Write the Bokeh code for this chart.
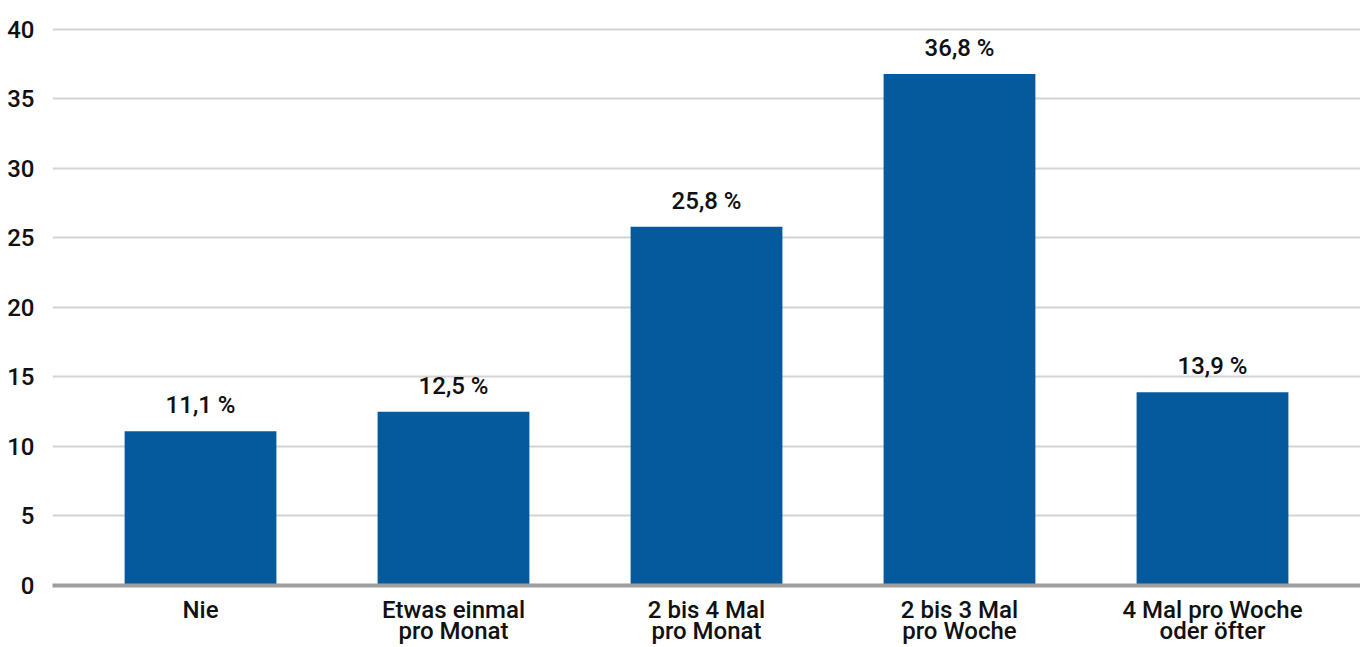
from bokeh.plotting import figure
from bokeh.models import FactorRange, Range1d, ColumnDataSource, FixedTicker
from bokeh.embed import file_html
from bokeh.resources import INLINE

categories = ["Nie", "Etwas einmal\npro Monat", "2 bis 4 Mal\npro Monat", "2 bis 3 Mal\npro Woche", "4 Mal pro Woche\noder öfter"]
values = [11.1, 12.5, 25.8, 36.8, 13.9]
labels = ["11,1 %", "12,5 %", "25,8 %", "36,8 %", "13,9 %"]
y_ticks = [0, 5, 10, 15, 20, 25, 30, 35, 40]

src = ColumnDataSource(dict(cat=categories, val=values, lab=labels))

FONT = "Roboto Medium"
p = figure(width=1360, height=647, output_backend="svg", toolbar_location=None,
           x_range=FactorRange(factors=categories, range_padding=0.085, range_padding_units="absolute"),
           y_range=Range1d(0, 41))
p.min_border_left = 52
p.min_border_right = 0
p.min_border_top = 15
p.min_border_bottom = 62
p.outline_line_color = None
p.background_fill_color = "white"
p.border_fill_color = "white"

p.vbar(x="cat", top="val", width=0.6, source=src, color="#045A9C", line_color=None)
p.text(x="cat", y="val", text="lab", source=src, text_align="center", text_baseline="bottom",
       y_offset=-12, text_font_size="24px", text_color="#111111", text_font={"value": FONT})

p.xgrid.grid_line_color = None
p.ygrid.grid_line_color = "#d4d4d4"
p.ygrid.grid_line_width = 2
p.ygrid.ticker = FixedTicker(ticks=y_ticks)

p.yaxis.ticker = FixedTicker(ticks=y_ticks)
p.yaxis.axis_line_color = None
p.yaxis.major_tick_line_color = None
p.yaxis.minor_tick_line_color = None
p.yaxis.major_label_standoff = 12
p.yaxis.major_label_text_font = FONT
p.yaxis.major_label_text_font_size = "24px"
p.yaxis.major_label_text_color = "#111111"

p.xaxis.axis_line_color = "#9e9e9e"
p.xaxis.axis_line_width = 4
p.xaxis.major_tick_line_color = None
p.xaxis.minor_tick_line_color = None
p.xaxis.major_label_standoff = 4
p.xaxis.major_label_text_font = FONT
p.xaxis.major_label_text_font_size = "24px"
p.xaxis.major_label_text_color = "#111111"
p.xaxis.major_label_text_line_height = 0.75

open("out.html", "w").write(file_html(p, INLINE))
